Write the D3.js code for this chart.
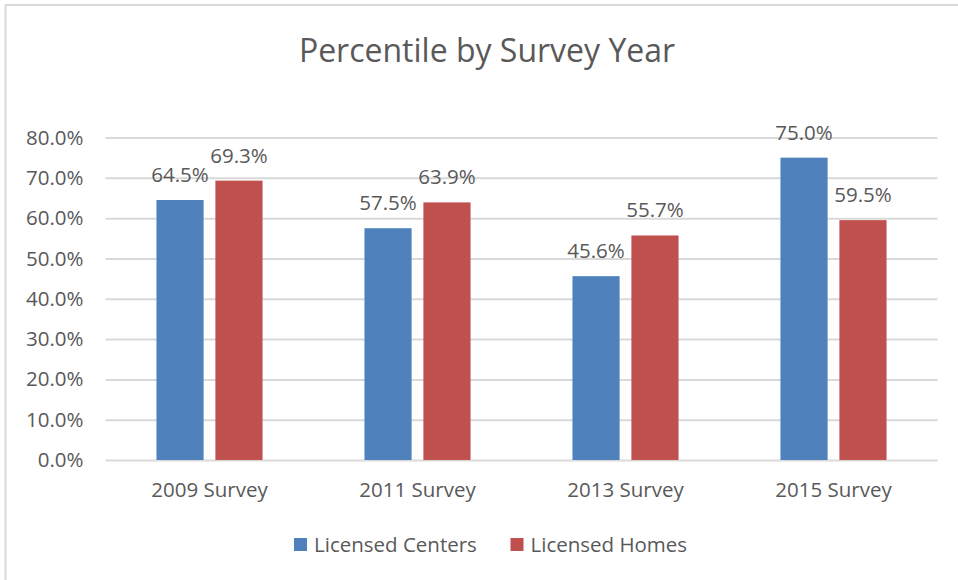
<!DOCTYPE html>
<html>
<head>
<meta charset="utf-8">
<script src="https://cdn.jsdelivr.net/npm/d3@7"></script>
<style>
  html, body { margin: 0; padding: 0; background: #fff; }
  svg { display: block; font-family: "Open Sans", sans-serif; }
</style>
</head>
<body>
<svg id="chart" width="958" height="580"></svg>
<script>
// Survey years and the two series shown per year
const categories = ["2009 Survey", "2011 Survey", "2013 Survey", "2015 Survey"];
const seriesNames = ["Licensed Centers", "Licensed Homes"];
const licensedCenters = [64.5, 57.5, 45.6, 75.0];
const licensedHomes = [69.3, 63.9, 55.7, 59.5];
const yTicks = [0, 10, 20, 30, 40, 50, 60, 70, 80];
const title = "Percentile by Survey Year";

const colors = { "Licensed Centers": "#4F81BD", "Licensed Homes": "#C0504D" };
const textColor = "#595959";
const labelSize = 20.5;

const rows = categories.map((c, i) => ({
  category: c,
  values: [
    { series: seriesNames[0], value: licensedCenters[i] },
    { series: seriesNames[1], value: licensedHomes[i] }
  ]
}));

const svg = d3.select("#chart");
const W = 958, H = 580;
const plot = { left: 105.5, right: 937.5, top: 137.5, bottom: 460 };

// Chart frame (top and left edges)
svg.append("line").attr("x1", 5.5).attr("x2", W).attr("y1", 5).attr("y2", 5)
  .attr("stroke", "#d9d9d9").attr("stroke-width", 2);
svg.append("line").attr("x1", 5.5).attr("x2", 5.5).attr("y1", 4).attr("y2", H)
  .attr("stroke", "#d9d9d9").attr("stroke-width", 2);

const x0 = d3.scaleBand().domain(categories)
  .range([plot.left, plot.right]).paddingInner(0.49).paddingOuter(0.245);
const x1 = d3.scaleBand().domain(seriesNames)
  .range([0, x0.bandwidth()]).paddingInner(0.2);
const y = d3.scaleLinear().domain([0, 80]).range([plot.bottom, plot.top]);

// Horizontal gridlines and y tick labels
const yAxis = d3.axisLeft(y).tickValues(yTicks)
  .tickSize(-(plot.right - plot.left))
  .tickFormat(d => d.toFixed(1) + "%")
  .tickPadding(22);
const gy = svg.append("g").attr("transform", `translate(${plot.left},0)`).call(yAxis);
gy.select(".domain").remove();
gy.selectAll(".tick line").attr("stroke", "#d9d9d9").attr("stroke-width", 2);
gy.selectAll(".tick text").attr("fill", textColor).attr("font-size", labelSize)
  .attr("font-family", "Open Sans");

// Category labels
const xAxis = d3.axisBottom(x0).tickSize(0).tickPadding(22);
const gx = svg.append("g").attr("transform", `translate(0,${plot.bottom})`).call(xAxis);
gx.select(".domain").remove();
gx.selectAll(".tick text").attr("fill", textColor).attr("font-size", labelSize)
  .attr("font-family", "Open Sans");

// Bars
const groups = svg.append("g").selectAll("g").data(rows).join("g")
  .attr("transform", d => `translate(${x0(d.category)},0)`);
groups.selectAll("rect").data(d => d.values).join("rect")
  .attr("x", d => x1(d.series))
  .attr("width", x1.bandwidth())
  .attr("y", d => y(d.value))
  .attr("height", d => y(0) - y(d.value))
  .attr("fill", d => colors[d.series]);

// Value labels above each bar
groups.selectAll("text.value").data(d => d.values).join("text")
  .attr("class", "value")
  .attr("x", d => x1(d.series) + x1.bandwidth() / 2)
  .attr("y", d => y(d.value) - 18)
  .attr("text-anchor", "middle")
  .attr("fill", textColor)
  .attr("font-size", labelSize)
  .text(d => d.value.toFixed(1) + "%");

// Title
svg.append("text").attr("x", 487).attr("y", 62)
  .attr("text-anchor", "middle").attr("fill", textColor)
  .attr("font-size", 32).text(title);

// Legend
const legend = svg.append("g");
const legendItems = [{ name: seriesNames[0], x: 294 }, { name: seriesNames[1], x: 510.5 }];
legendItems.forEach(item => {
  legend.append("rect").attr("x", item.x).attr("y", 538)
    .attr("width", 13).attr("height", 13).attr("fill", colors[item.name]);
  legend.append("text").attr("x", item.x + 20).attr("y", 552)
    .attr("fill", textColor).attr("font-size", labelSize).text(item.name);
});
</script>
</body>
</html>
